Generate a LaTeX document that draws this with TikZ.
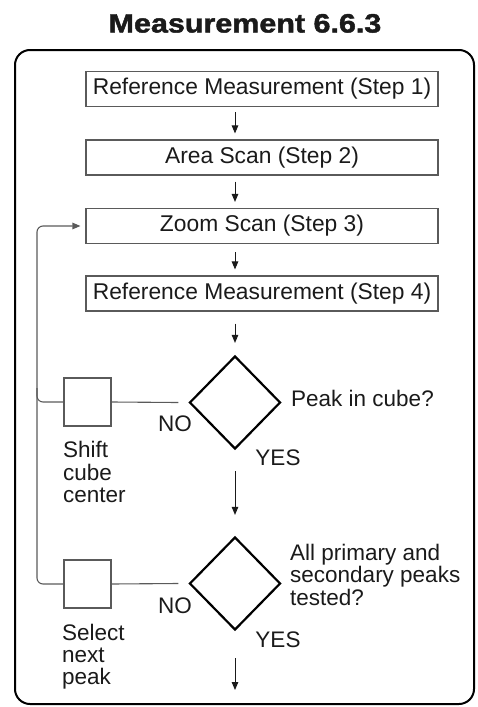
\documentclass[tikz,border=0pt]{standalone}
\usepackage{fontspec}
\setmainfont{Liberation Sans}
\newfontfamily\titlefont[FakeBold=1.6]{Liberation Sans Bold}
\usetikzlibrary{arrows.meta,shapes.geometric,calc}
\definecolor{ink}{HTML}{1A1A1A}
\definecolor{edge}{HTML}{5A5A5A}
\begin{document}
\begin{tikzpicture}[x=1pt,y=-1pt,
  every node/.style={text=ink},
  txt/.style={font=\fontsize{22.5}{22.5}\selectfont, inner sep=0pt},
  stepbox/.style={draw=edge, line width=1.1pt, minimum width=352pt, minimum height=35pt, inner sep=0pt, font=\fontsize{22.8}{24}\selectfont},
  dec/.style={draw=black, line width=2.2pt, shape=diamond, minimum width=91pt, minimum height=93pt, inner sep=0pt},
  sq/.style={draw=edge, line width=1.1pt, minimum width=47pt, minimum height=48pt, inner sep=0pt},
  arr/.style={draw=ink, line width=1pt, -{Triangle[length=8pt,width=6.5pt]}},
  conn/.style={draw=edge, line width=1.1pt},
]
\useasboundingbox (0,0) rectangle (478,707);
% title
\node[anchor=base, inner sep=0pt, font=\fontsize{26.5}{28}\titlefont] (title) at (245,32.5) {\scalebox{1.15}[1]{Measurement 6.6.3}};
% frame
\draw[line width=2pt, rounded corners=15pt] (15,50) rectangle (474,704);
% steps
\node[stepbox] (s1) at (262,89) {Reference Measurement (Step 1)};
\node[stepbox] (s2) at (262,157.5) {Area Scan (Step 2)};
\node[stepbox] (s3) at (262,226) {Zoom Scan (Step 3)};
\node[stepbox] (s4) at (262,293.5) {Reference Measurement (Step 4)};
% decisions
\node[dec] (d1) at (235,402.5) {};
\node[dec] (d2) at (235,583.5) {};
% side squares
\node[sq] (q1) at (87.5,402) {};
\node[sq] (q2) at (87.5,584) {};
% helper coordinates
\coordinate (lt) at (37,226);
\coordinate (fin) at (235,690);
% vertical arrows
\draw[arr, shorten <=5pt, shorten >=6pt] (s1.south -| d1.north) -- (s2.north -| d1.north);
\draw[arr, shorten <=6pt, shorten >=6pt] (s2.south -| d1.north) -- (s3.north -| d1.north);
\draw[arr, shorten <=8pt, shorten >=6pt] (s3.south -| d1.north) -- (s4.north -| d1.north);
\draw[arr, shorten <=12pt, shorten >=12pt] (s4.south -| d1.north) -- (d1.north);
\draw[arr, shorten <=21pt, shorten >=21pt] (d1.south) -- (d2.north);
\draw[arr, shorten <=27pt] (d2.south) -- (fin);
% NO branches
\draw[conn] (q1.east) -- ([xshift=-10pt]d1.west);
\draw[conn] (q2.east) -- ([xshift=-10pt]d2.west);
\draw[conn, rounded corners=6pt] (q1.west) -| ($(q1.west -| lt)+(0,-14)$);
\draw[conn, rounded corners=6pt, -{Triangle[length=8pt,width=6.5pt]}, shorten >=5pt] (q2.west) -| (lt) -- (s3.west);
% labels
\node[txt, anchor=base] (no1) at (175,431) {NO};
\node[txt, anchor=base] (yes1) at (278,465) {YES};
\node[txt, anchor=base west] (q1t) at (291,406) {Peak in cube?};
\node[txt, anchor=base west] (q1l) at (63,457) {\begin{tabular}[t]{@{}l@{}}Shift\\cube\\center\end{tabular}};
\node[txt, anchor=base] (no2) at (175,613) {NO};
\node[txt, anchor=base] (yes2) at (278,647) {YES};
\node[txt, anchor=base west] (q2t) at (290,560) {\fontsize{22.5}{21.7}\selectfont\begin{tabular}[t]{@{}l@{}}All primary and\\secondary peaks\\tested?\end{tabular}};
\node[txt, anchor=base west] (q2l) at (62,640) {\fontsize{22.5}{22}\selectfont\begin{tabular}[t]{@{}l@{}}Select\\next\\peak\end{tabular}};
\end{tikzpicture}
\end{document}
